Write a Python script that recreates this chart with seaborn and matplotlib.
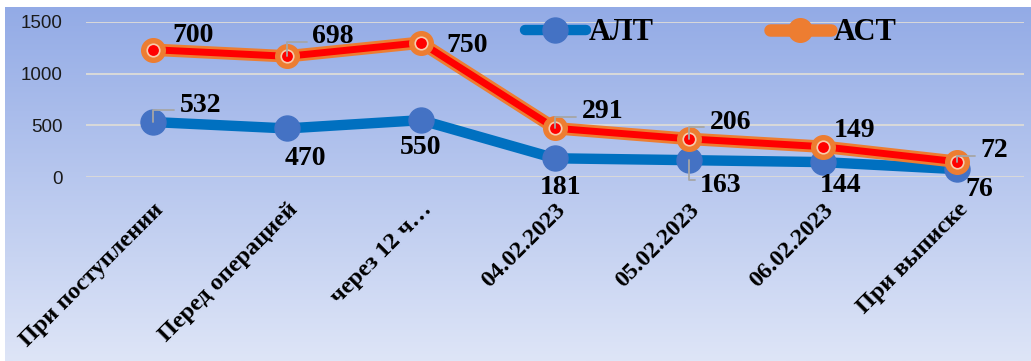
import numpy as np
import pandas as pd
import matplotlib
matplotlib.use("Agg")
import matplotlib.pyplot as plt
import matplotlib.transforms as mtransforms
from matplotlib.lines import Line2D
import seaborn as sns

# Liver enzyme levels over the course of treatment
categories = ["При поступлении", "Перед операцией", "через 12 ч…",
              "04.02.2023", "05.02.2023", "06.02.2023", "При выписке"]
alt_values = [532, 470, 550, 181, 163, 144, 76]
ast_values = [700, 698, 750, 291, 206, 149, 72]
y_ticks = [0, 500, 1000, 1500]

# label offsets (points) relative to each point, and whether a leader line is drawn
alt_label_offsets = [(34, 12), (13, -22), (0, -20), (4, -21), (23, -18), (13, -17), (16, -15)]
alt_leaders = [True, False, False, False, True, False, False]
ast_label_offsets = [(29, 10), (33, 14), (33, -2), (34, 12), (30, 12), (23, 12), (27, 8)]
ast_leaders = [False, True, False, True, True, False, True]

BLUE_LINE = "#0070C0"
BLUE_MARK = "#4472C4"
ORANGE = "#ED7D31"
RED = "#FF0000"

x = np.arange(len(categories))
ast_stacked = np.array(alt_values) + np.array(ast_values)
df = pd.DataFrame({"x": x, "alt": alt_values, "ast_top": ast_stacked})

fig = plt.figure(figsize=(10.31, 3.61), dpi=100)
fig.patch.set_facecolor("white")

# gradient background of the chart area
bg = fig.add_axes([5 / 1031, 0, 1 - 5 / 1031, 1 - 7 / 361], zorder=0)
grad = np.linspace(0, 1, 256).reshape(-1, 1)
top = np.array([0x93, 0xAB, 0xE6]) / 255
bottom = np.array([0xDE, 0xE5, 0xF7]) / 255
img = top + (bottom - top) * grad[..., None]
img = img.reshape(256, 1, 3)
bg.imshow(img, aspect="auto", extent=[0, 1, 0, 1], origin="upper")
bg.set_axis_off()

ax = fig.add_axes([86 / 1031, 1 - 177 / 361, 938 / 1031, 155 / 361], zorder=1)
ax.patch.set_alpha(0)

# ALT series
sns.lineplot(data=df, x="x", y="alt", ax=ax, color=BLUE_LINE, linewidth=7.5,
             solid_capstyle="round", zorder=3, legend=False)
ax.plot(df["x"], df["alt"], linestyle="none", marker="o", markersize=18,
        markerfacecolor=BLUE_MARK, markeredgecolor=BLUE_MARK, zorder=4, clip_on=False)

# AST series (stacked on ALT)
sns.lineplot(data=df, x="x", y="ast_top", ax=ax, color=ORANGE, linewidth=9,
             zorder=5, legend=False)
sns.lineplot(data=df, x="x", y="ast_top", ax=ax, color=RED, linewidth=5,
             zorder=6, legend=False)
ax.plot(df["x"], df["ast_top"], linestyle="none", marker="o", markersize=17,
        markerfacecolor=ORANGE, markeredgecolor=ORANGE, zorder=7)
ax.plot(df["x"], df["ast_top"], linestyle="none", marker="o", markersize=9,
        markerfacecolor=RED, markeredgecolor="#F8CBAD", markeredgewidth=1.2, zorder=8)

label_font = dict(family="Liberation Serif", fontweight="bold", fontsize=20, color="black")


def add_labels(values, ypos, offsets, leaders):
    for i, (v, yv, off, lead) in enumerate(zip(values, ypos, offsets, leaders)):
        kw = {}
        if lead:
            up = off[1] > 0
            kw["arrowprops"] = dict(
                arrowstyle="-", color="#A6A6A6", lw=1.3,
                connectionstyle="angle,angleA=0,angleB=90,rad=0",
                relpos=(0, 0.3 if up else 0.7), shrinkA=2, shrinkB=0)
        ax.annotate(str(v), xy=(x[i], yv), xytext=off, textcoords="offset points",
                    ha="center", va="center", zorder=10, annotation_clip=False,
                    **label_font, **kw)


add_labels(alt_values, alt_values, alt_label_offsets, alt_leaders)
add_labels(ast_values, ast_stacked, ast_label_offsets, ast_leaders)

ax.set_xlim(-0.5, len(categories) - 0.5)
ax.set_ylim(0, 1500)
ax.set_yticks(y_ticks)
ax.set_yticklabels([str(t) for t in y_ticks], family="Liberation Sans", fontsize=13.5,
                   color="#1A1A1A")
ax.set_xticks(x)
ax.set_xticklabels(categories, family="Liberation Serif", fontweight="bold",
                   fontsize=17.5, rotation=45, ha="right", rotation_mode="anchor")
shift = mtransforms.ScaledTranslation(6 / 72, 0, fig.dpi_scale_trans)
for lbl in ax.get_xticklabels():
    lbl.set_transform(lbl.get_transform() + shift)
ax.tick_params(axis="both", length=0)
ax.tick_params(axis="y", pad=17)
ax.tick_params(axis="x", pad=16)
ax.grid(axis="y", color="#D9D9D9", linewidth=1.4, zorder=0)
ax.grid(axis="x", visible=False)
ax.set_axisbelow(True)
for s in ax.spines.values():
    s.set_visible(False)
ax.set_xlabel("")
ax.set_ylabel("")

handles = [
    Line2D([0], [0], color=BLUE_LINE, lw=7.5, marker="o", markersize=18,
           markerfacecolor=BLUE_MARK, markeredgecolor=BLUE_MARK, solid_capstyle="round"),
    Line2D([0], [0], color=ORANGE, lw=9, marker="o", markersize=17,
           markerfacecolor=ORANGE, markeredgecolor=ORANGE, solid_capstyle="round"),
]
leg = ax.legend(handles, ["АЛТ", "АСТ"], loc="center", bbox_to_anchor=(0.666, 0.93),
                ncol=2, frameon=False, handlelength=2.0, columnspacing=3.8,
                handletextpad=0.1, prop=dict(family="Liberation Serif", weight="bold", size=22))
leg.set_zorder(12)

fig.savefig("out.png", dpi=100, facecolor=fig.get_facecolor())
